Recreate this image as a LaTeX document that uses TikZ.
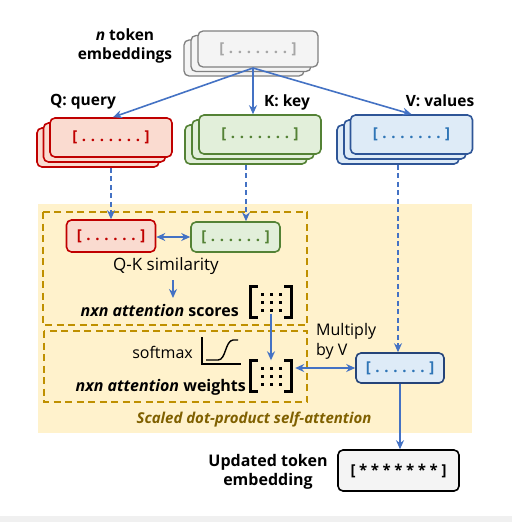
\documentclass[tikz,border=0pt]{standalone}
\usepackage{fontspec}
\setmainfont{Open Sans}
\usetikzlibrary{arrows.meta,calc}
\definecolor{bgy}{HTML}{FFF2CC}
\definecolor{gold}{HTML}{BF9000}
\definecolor{goldtext}{HTML}{7F6000}
\definecolor{ablue}{HTML}{4472C4}
\definecolor{qred}{HTML}{C00000}
\definecolor{qfill}{HTML}{FADBD0}
\definecolor{kgreen}{HTML}{548235}
\definecolor{kfill}{HTML}{E2EFDA}
\definecolor{vblue}{HTML}{2E5597}
\definecolor{vtext}{HTML}{2E75B6}
\definecolor{vfill}{HTML}{DEEBF7}
\definecolor{tgray}{HTML}{808080}
\definecolor{tfill}{HTML}{F4F4F4}
\newcommand{\dg}{\hspace{4.7pt}}
\newcommand{\dotstext}{[\dg.\dg.\dg.\dg.\dg.\dg.\dg.\dg]}
\newcommand{\sixdots}{[\dg.\dg.\dg.\dg.\dg.\dg.\dg]}
\newcommand{\sg}{\hspace{3.6pt}}
\newcommand{\startext}{[\sg*\sg*\sg*\sg*\sg*\sg*\sg*\sg]}
\newcommand{\drawmat}[1]{%
  \draw[brk] ([xshift=6pt]#1.north west) -- (#1.north west) -- (#1.south west) -- ([xshift=6pt]#1.south west);
  \draw[brk] ([xshift=-6pt]#1.north east) -- (#1.north east) -- (#1.south east) -- ([xshift=-6pt]#1.south east);
  \foreach \i in {-9,0,9}{\foreach \j in {-8,0,8}{\fill ($(#1.center)+(\i-1.5,\j-1.5)$) rectangle ++(3,3);}}
}
\begin{document}
\begin{tikzpicture}[x=1pt,y=-1pt,
  box/.style={draw, rounded corners=5pt, line width=1.6pt, inner sep=0pt, font=\bfseries\fontsize{15}{17}\selectfont},
  stk/.style={box, minimum width=122pt, minimum height=39pt},
  tstk/.style={box, draw=tgray, line width=1.3pt, fill=tfill, text=tgray!70, minimum width=120pt, minimum height=36pt},
  qst/.style={stk, draw=qred, fill=qfill, text=qred},
  kst/.style={stk, draw=kgreen, fill=kfill, text=kgreen},
  vst/.style={stk, draw=vblue, fill=vfill, text=vtext},
  lbl/.style={font=\bfseries\fontsize{15.5}{19}\selectfont, align=center, inner sep=0pt},
  txt/.style={font=\fontsize{16}{20}\selectfont, inner sep=0pt, align=left},
  arr/.style={-{Stealth[length=9pt,width=8pt]}, draw=ablue, line width=1.6pt},
  dbl/.style={{Stealth[length=9pt,width=8pt]}-{Stealth[length=9pt,width=8pt]}, draw=ablue, line width=1.6pt},
  darr/.style={arr, dash pattern=on 5pt off 3.5pt},
  dbox/.style={draw=gold, line width=1.6pt, dash pattern=on 7pt off 4.5pt},
  brk/.style={line width=3pt, line cap=rect},
  mat/.style={minimum width=40pt, minimum height=31pt, inner sep=0pt}
]
\useasboundingbox (0,0) rectangle (512,522);
\fill[white] (0,0) rectangle (512,522);
\fill[gray!12] (0,516) rectangle (512,522);
% background region
\fill[bgy] (38,204) rectangle (472,433);
\draw[dbox] (43,212) rectangle (307,325);
\draw[dbox] (44,331) rectangle (307,402);

% top stack
\node[tstk] (tb2) at (244,58) {};
\node[tstk] (tb1) at (251,53.5) {};
\node[tstk] (t) at (258,49) {\dotstext};
\node[lbl] (tl) at (125,46) {\textit{n} token\\embeddings};

% Q K V stacks
\node[qst] (qb2) at (98,147.5) {};
\node[qst] (qb1) at (104.5,142.5) {};
\node[qst] (q) at (111,137.5) {\dotstext};
\node[kst] (kb2) at (246,144.5) {};
\node[kst] (kb1) at (253,139.5) {};
\node[kst] (k) at (260,134.5) {\dotstext};
\node[vst] (vb2) at (398,144.5) {};
\node[vst] (vb1) at (405,139.5) {};
\node[vst] (v) at (411.5,134.5) {\dotstext};
\node[lbl] (ql) at (83,102) {Q: query};
\node[lbl] (kl) at (287,102) {K: key};
\node[lbl] (vl) at (440,101) {V: values};

\coordinate (src) at (253,68);
\draw[arr] (src) -- ([xshift=2pt]q.north);
\draw[arr] (src) -- (src |- k.north);
\draw[arr] (src) -- (v.north);

% small boxes
\node[box, draw=qred, fill=qfill, text=qred, minimum width=89pt, minimum height=32pt] (qs) at (111,236) {\sixdots};
\node[box, draw=kgreen, fill=kfill, text=kgreen, minimum width=89pt, minimum height=30pt] (ks) at (235.5,237) {\sixdots};
\node[box, draw=vblue!80!black, fill=vfill, text=vtext, minimum width=88pt, minimum height=30pt] (vs) at (400,368) {\sixdots};

\draw[darr] (qs.north |- qb2.south) -- (qs.north);
\draw[darr] (kb2.south) -- (kb2.south |- ks.north);
\draw[darr] (vb2.south) -- (vb2.south |- vs.north);
\draw[dbl] (qs.east |- ks.west) -- (ks.west);

\node[txt, font=\fontsize{17}{20}\selectfont] (qk) at (166,266) {Q-K similarity};
\coordinate (qka) at (173,280);
\coordinate (qkb) at (173,298);
\draw[arr] (qka) -- (qkb);

% scores
\node[lbl, font=\bfseries\fontsize{16}{19}\selectfont, anchor=east] (sc) at (239,310) {\textit{nxn attention} scores};
\node[mat] (sm) at (271,302) {};
\drawmat{sm}

% weights
\node[txt, anchor=east] (sf) at (193,352) {softmax};
\node[lbl, font=\bfseries\fontsize{16}{19}\selectfont, anchor=east] (wt) at (246,387) {\textit{nxn attention} weights};
\node[mat] (wm) at (271,376) {};
\drawmat{wm}
\draw[line width=1.2pt] (202,337) -- (202,364) -- (241,364);
\draw[line width=1.4pt] (206,360) -- (218,360) .. controls (226,360) and (225,341) .. (233,340) -- (238,340);

\draw[arr] ([yshift=4pt]sm.south) -- (wm.north);
\draw[dbl] ([xshift=4pt]wm.east |- vs.west) -- (vs.west);
\node[txt, anchor=north west, font=\fontsize{16}{20}\selectfont] (mv) at (316,323) {Multiply\\by V};

\node[font=\bfseries\itshape\fontsize{15}{17}\selectfont, text=goldtext, inner sep=0pt] (sdl) at (254,420) {Scaled dot-product self-attention};

% updated
\node[box, draw=black, fill=tfill, text=black, minimum width=121pt, minimum height=41pt] (up) at (398.5,470.5) {\startext};
\draw[arr] (vs.south) -- (vs.south |- up.north);
\node[lbl, font=\bfseries\fontsize{16}{19}\selectfont] (ul) at (268,472) {Updated token\\embedding};
\end{tikzpicture}
\end{document}
